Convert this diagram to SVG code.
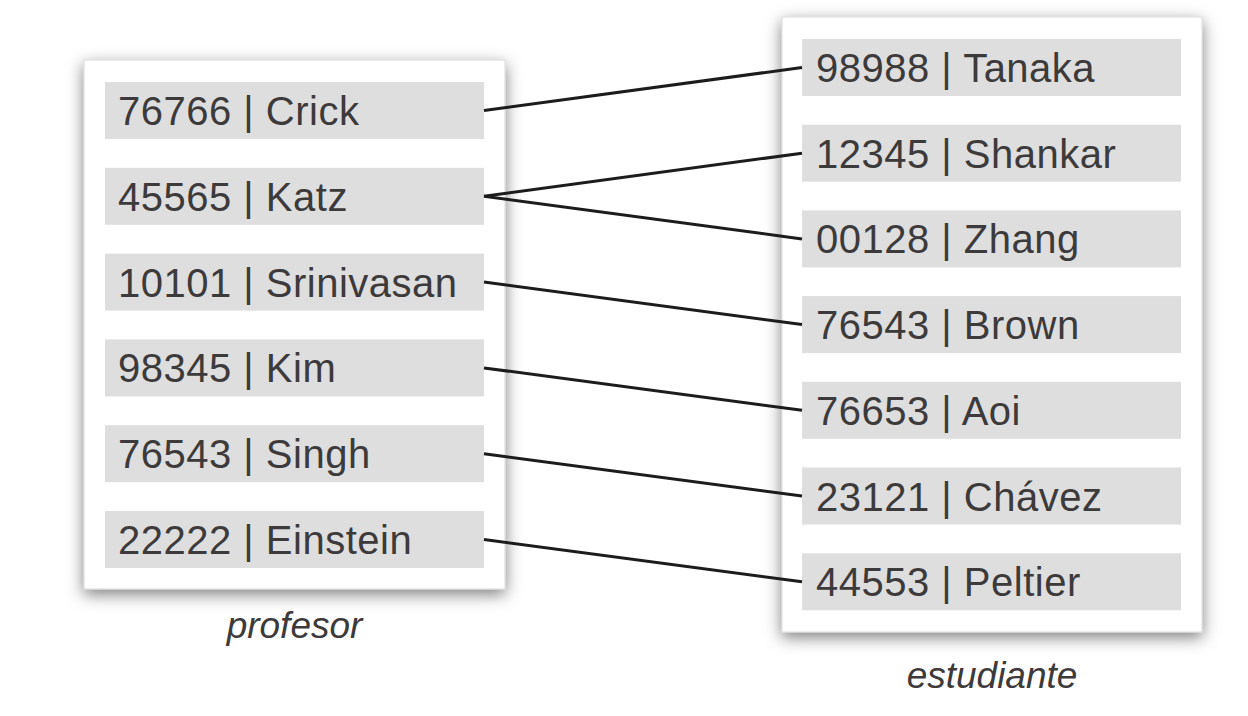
<svg xmlns="http://www.w3.org/2000/svg" width="1248" height="716" viewBox="0 0 1248 716">
<defs>
<filter id="sh" x="-15%" y="-15%" width="130%" height="130%">
<feDropShadow dx="0" dy="5" stdDeviation="8" flood-color="#000" flood-opacity="0.5"/>
</filter>
<style>
.box{fill:#fff;stroke:#d8d8d8;stroke-width:1;filter:url(#sh)}
.row{fill:#dedede}
.t{font-family:"Liberation Sans",Arial,sans-serif;font-size:40px;letter-spacing:0.5px;fill:#3d3a3b}
.lbl{font-family:"Liberation Sans",Arial,sans-serif;font-size:37px;font-style:italic;fill:#3d3a3b;text-anchor:middle}
.c{stroke:#1c1c1c;stroke-width:3;fill:none}
</style>
</defs>
<rect width="1248" height="716" fill="#fff"/>
<g id="profesor">
<rect class="box" x="84" y="60" width="421" height="529"/>
<text class="lbl" x="294.5" y="638">profesor</text>
</g>
<g id="estudiante">
<rect class="box" x="782" y="17" width="420" height="615"/>
<text class="lbl" x="992" y="688">estudiante</text>
</g>
<g id="p1"><rect class="row" x="105" y="82" width="379" height="57"/><text class="t" x="118" y="125">76766 | Crick</text></g>
<g id="p2"><rect class="row" x="105" y="167.8" width="379" height="57"/><text class="t" x="118" y="210.8">45565 | Katz</text></g>
<g id="p3"><rect class="row" x="105" y="253.6" width="379" height="57"/><text class="t" x="118" y="296.6">10101 | Srinivasan</text></g>
<g id="p4"><rect class="row" x="105" y="339.4" width="379" height="57"/><text class="t" x="118" y="382.4">98345 | Kim</text></g>
<g id="p5"><rect class="row" x="105" y="425.2" width="379" height="57"/><text class="t" x="118" y="468.2">76543 | Singh</text></g>
<g id="p6"><rect class="row" x="105" y="511" width="379" height="57"/><text class="t" x="118" y="554">22222 | Einstein</text></g>
<g id="e1"><rect class="row" x="802" y="39" width="379" height="57"/><text class="t" x="816" y="82">98988 | Tanaka</text></g>
<g id="e2"><rect class="row" x="802" y="124.7" width="379" height="57"/><text class="t" x="816" y="167.7">12345 | Shankar</text></g>
<g id="e3"><rect class="row" x="802" y="210.4" width="379" height="57"/><text class="t" x="816" y="253.4">00128 | Zhang</text></g>
<g id="e4"><rect class="row" x="802" y="296.1" width="379" height="57"/><text class="t" x="816" y="339.1">76543 | Brown</text></g>
<g id="e5"><rect class="row" x="802" y="381.8" width="379" height="57"/><text class="t" x="816" y="424.8">76653 | Aoi</text></g>
<g id="e6"><rect class="row" x="802" y="467.5" width="379" height="57"/><text class="t" x="816" y="510.5">23121 | Chávez</text></g>
<g id="e7"><rect class="row" x="802" y="553.3" width="379" height="57"/><text class="t" x="816" y="596.3">44553 | Peltier</text></g>
<g id="connectors">
<line class="c" x1="484" y1="110.5" x2="802" y2="67.5"/>
<line class="c" x1="484" y1="196.3" x2="802" y2="153.2"/>
<line class="c" x1="484" y1="196.3" x2="802" y2="238.9"/>
<line class="c" x1="484" y1="282.1" x2="802" y2="324.6"/>
<line class="c" x1="484" y1="367.9" x2="802" y2="410.3"/>
<line class="c" x1="484" y1="453.7" x2="802" y2="496"/>
<line class="c" x1="484" y1="539.5" x2="802" y2="581.8"/>
</g>
</svg>
